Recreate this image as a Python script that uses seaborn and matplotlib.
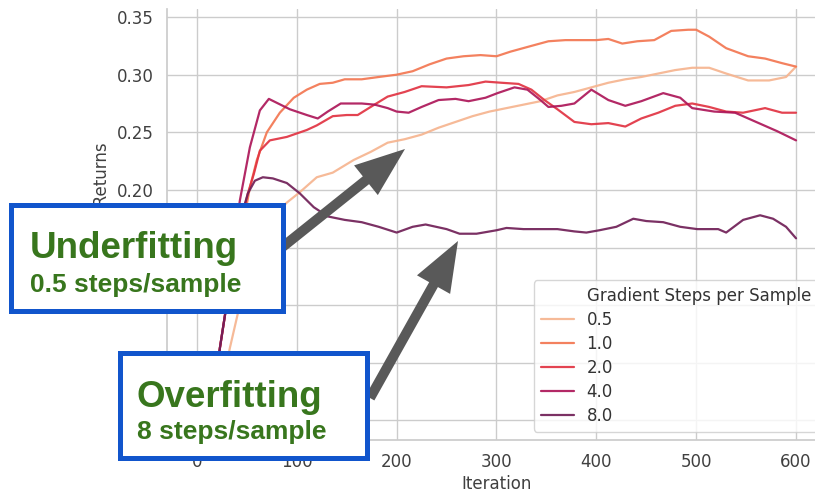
import matplotlib
matplotlib.use("Agg")
import matplotlib.pyplot as plt
from matplotlib.patches import Rectangle, FancyArrow
from matplotlib.lines import Line2D
import seaborn as sns
import pandas as pd

# curves
steps_labels = ["0.5", "1.0", "2.0", "4.0", "8.0"]

x_05 = [0, 10, 20, 27, 33, 41, 50, 60, 70, 80, 90, 103, 120, 136, 157, 174, 191, 208, 225, 242,
        259, 276, 293, 310, 327, 344, 361, 378, 395, 412, 429, 445, 462, 479, 496, 513, 530, 552,
        573, 590, 600]
y_05 = [0.0, 0.004, 0.018, 0.038, 0.063, 0.093, 0.122, 0.148, 0.167, 0.180, 0.189, 0.198, 0.211,
        0.215, 0.226, 0.233, 0.241, 0.244, 0.248, 0.254, 0.259, 0.264, 0.268, 0.271, 0.274, 0.277,
        0.282, 0.285, 0.289, 0.293, 0.296, 0.298, 0.301, 0.304, 0.306, 0.306, 0.301, 0.295, 0.295,
        0.298, 0.307]

x_10 = [0, 10, 18, 23, 28, 35, 42, 50, 53, 60, 70, 83, 97, 110, 123, 136, 148, 165, 182, 200, 216,
        233, 250, 267, 284, 300, 314, 335, 352, 369, 386, 400, 412, 426, 441, 458, 475, 492, 500,
        513, 530, 552, 569, 586, 600]
y_10 = [0.0, 0.004, 0.03, 0.063, 0.091, 0.13, 0.165, 0.188, 0.202, 0.226, 0.250, 0.267, 0.280,
        0.287, 0.292, 0.293, 0.296, 0.296, 0.298, 0.300, 0.303, 0.309, 0.314, 0.316, 0.317, 0.316,
        0.320, 0.325, 0.329, 0.330, 0.330, 0.330, 0.331, 0.327, 0.329, 0.330, 0.338, 0.339, 0.339,
        0.333, 0.323, 0.316, 0.314, 0.310, 0.307]

x_20 = [0, 10, 18, 23, 28, 35, 42, 51, 57, 63, 73, 90, 110, 120, 136, 150, 161, 174, 191, 208, 225,
        250, 272, 289, 305, 322, 335, 348, 361, 378, 395, 412, 429, 445, 462, 479, 496, 513, 530,
        547, 569, 586, 600]
y_20 = [0.0, 0.004, 0.03, 0.063, 0.091, 0.13, 0.165, 0.197, 0.214, 0.234, 0.243, 0.246, 0.252,
        0.256, 0.264, 0.265, 0.265, 0.272, 0.281, 0.285, 0.290, 0.289, 0.291, 0.294, 0.293, 0.292,
        0.287, 0.278, 0.270, 0.259, 0.257, 0.258, 0.255, 0.262, 0.267, 0.273, 0.275, 0.272, 0.268,
        0.267, 0.271, 0.267, 0.267]

x_40 = [0, 10, 18, 23, 28, 35, 43, 53, 63, 72, 93, 110, 121, 131, 144, 165, 178, 191, 200, 212,
        225, 242, 259, 272, 289, 301, 318, 331, 344, 352, 365, 378, 395, 412, 429, 445, 467, 484,
        496, 518, 539, 560, 581, 600]
y_40 = [0.0, 0.004, 0.03, 0.063, 0.091, 0.14, 0.191, 0.237, 0.269, 0.279, 0.270, 0.265, 0.262,
        0.268, 0.275, 0.275, 0.274, 0.271, 0.268, 0.267, 0.272, 0.278, 0.279, 0.277, 0.280, 0.284,
        0.289, 0.287, 0.278, 0.272, 0.273, 0.275, 0.287, 0.278, 0.273, 0.277, 0.284, 0.280, 0.271,
        0.268, 0.267, 0.259, 0.251, 0.243]

x_80 = [0, 10, 18, 23, 28, 35, 42, 48, 51, 58, 66, 76, 90, 103, 117, 131, 148, 165, 182, 200, 216,
        229, 250, 263, 280, 300, 310, 327, 344, 361, 378, 390, 403, 420, 437, 450, 467, 484, 501,
        522, 530, 547, 564, 577, 590, 600]
y_80 = [0.0, 0.004, 0.03, 0.063, 0.091, 0.13, 0.17, 0.188, 0.197, 0.208, 0.211, 0.210, 0.206,
        0.197, 0.185, 0.177, 0.174, 0.172, 0.168, 0.163, 0.168, 0.170, 0.166, 0.162, 0.162, 0.165,
        0.167, 0.166, 0.166, 0.166, 0.164, 0.163, 0.165, 0.168, 0.175, 0.173, 0.172, 0.168, 0.166,
        0.166, 0.163, 0.174, 0.178, 0.175, 0.168, 0.158]

hue_name = "Gradient Steps per Sample"
frames = []
for lab, xs, ys in zip(steps_labels, [x_05, x_10, x_20, x_40, x_80], [y_05, y_10, y_20, y_40, y_80]):
    frames.append(pd.DataFrame({"Iteration": xs, "Returns": ys, hue_name: lab}))
df = pd.concat(frames, ignore_index=True)

sns.set_theme(style="whitegrid")
plt.rcParams["font.family"] = ["DejaVu Sans"]
plt.rcParams["legend.fontsize"] = 12

W, H = 815, 493
fig = plt.figure(figsize=(W / 100, H / 100), dpi=100)
ax = fig.add_axes([167 / W, 53 / H, 659 / W, 431 / H])

colors = sns.color_palette("rocket_r", 6)[:5]
sns.lineplot(data=df, x="Iteration", y="Returns", hue=hue_name, hue_order=steps_labels,
             palette=dict(zip(steps_labels, colors)), linewidth=1.6, alpha=0.92, ax=ax)

ax.set_xlim(-30, 630)
ax.set_ylim(-0.017, 0.357)
ax.set_xticks([0, 100, 200, 300, 400, 500, 600])
ax.set_yticks([0.0, 0.05, 0.10, 0.15, 0.20, 0.25, 0.30, 0.35])
ax.set_yticklabels([f"{v:.2f}" for v in ax.get_yticks()])
ax.tick_params(labelsize=12, colors="0.25")
ax.set_xlabel("Iteration", fontsize=12, color="0.25", labelpad=3)
ax.set_ylabel("Normalized Returns", fontsize=12, color="0.25")
sns.despine(ax=ax, top=True, right=True)

# old-style seaborn legend: variable name as a first entry without a handle
handles, labels = ax.get_legend_handles_labels()
blank = Line2D([], [], color="none")
ax.legend([blank] + handles, [hue_name] + labels, loc="lower right", frameon=True,
          borderaxespad=0.5, labelspacing=0.36, handletextpad=0.75, labelcolor="0.2")

# overlay boxes, text and arrows (figure pixels, y from top)
blue = "#1155cc"
green = "#38761d"
grey = "#595959"


def px(x, y):
    return x / 100, (H - y) / 100


def arrow(x0, y0, x1, y1):
    a, b = px(x0, y0)
    c, d = px(x1, y1)
    fig.add_artist(FancyArrow(a, b, c - a, d - b, width=0.10, head_width=0.38, head_length=0.50,
                              length_includes_head=True, color=grey, lw=0,
                              transform=fig.dpi_scale_trans, zorder=4))


def box(x0, y0, x1, y1):
    a, b = px(x0 + 2.5, y1 - 2.5)
    c, d = px(x1 - 2.5, y0 + 2.5)
    fig.add_artist(Rectangle((a, b), c - a, d - b, facecolor="white", edgecolor=blue, lw=3.6,
                             transform=fig.dpi_scale_trans, zorder=5))


arrow(280, 249, 405, 149)
arrow(370, 398, 458, 241)
box(8, 202, 285, 313)
box(117, 350, 369, 460)

big = dict(family=["Liberation Sans", "DejaVu Sans"], weight="bold", color=green,
           ha="left", va="baseline", zorder=6)
fig.text(30 / W, 1 - 258 / H, "Underfitting", fontsize=26.5, **big)
fig.text(30 / W, 1 - 292 / H, "0.5 steps/sample", fontsize=19, **big)
fig.text(136 / W, 1 - 407 / H, "Overfitting", fontsize=26.5, **big)
fig.text(137 / W, 1 - 439 / H, "8 steps/sample", fontsize=19, **big)

fig.savefig("out.png", dpi=100)
